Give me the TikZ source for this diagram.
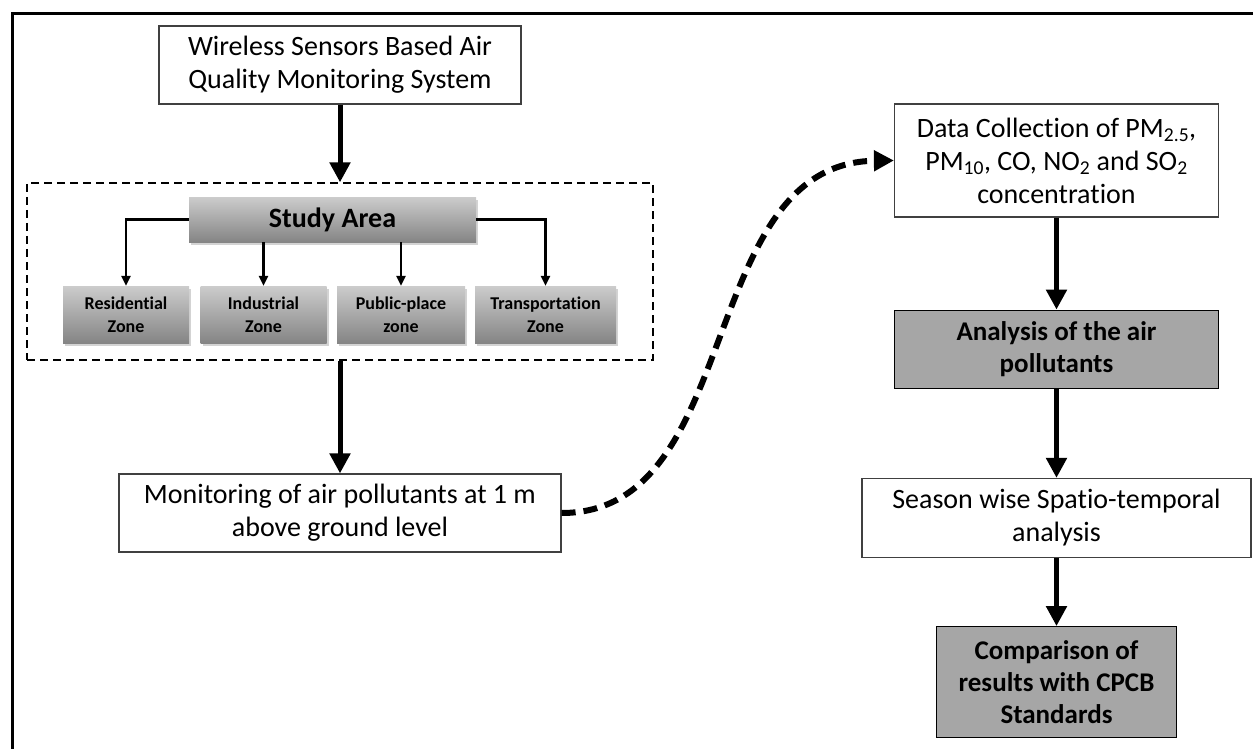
\documentclass[tikz,border=0pt]{standalone}
\usepackage{fontspec}
\setmainfont{Carlito}[Ligatures=NoCommon]
\usetikzlibrary{positioning,arrows.meta,shadows}

\begin{document}
\begin{tikzpicture}[x=1pt, y=-1pt, node distance=90pt,
  every node/.style={inner sep=0pt, align=center},
  wbox/.style={draw=black!75, line width=1.2pt, fill=white, font=\fontsize{28}{33}\selectfont},
  gbox/.style={draw=black, line width=1.3pt, fill=black!35, font=\bfseries\fontsize{27}{32}\selectfont},
  zone/.style={top color=black!20, bottom color=black!48, drop shadow={shadow xshift=2pt, shadow yshift=-2.5pt, opacity=.35}, font=\bfseries\fontsize{18}{23}\selectfont, minimum height=57pt},
  big/.style={line width=5pt, -{Triangle[width=20pt,length=20pt]}},
  small/.style={line width=2.5pt, -{Triangle[width=9pt,length=10pt]}}]
  \useasboundingbox (0,0) rectangle (1253,749);
  \draw[line width=3pt] (12,749) |- (1253,14);

  % left column
  \node[wbox, minimum width=362pt, minimum height=78pt] (wsn) at (340,65) {Wireless Sensors Based Air\\Quality Monitoring System};
  \node[draw, line width=1.3pt, dash pattern=on 8pt off 5pt, minimum width=626pt, minimum height=177pt] (area) at (340,271.5) {};
  \node[zone, minimum width=287pt, minimum height=45pt, font=\bfseries\fontsize{28}{30}\selectfont] (study) at (332.5,219.5) {Study Area};
  \node[zone, minimum width=126pt] (res) at (126,314.5) {Residential\\Zone};
  \node[zone, minimum width=126pt] (ind) at (263.5,314.5) {Industrial\\Zone};
  \node[zone, minimum width=128pt] (pub) at (401,314.5) {Public-place\\zone};
  \node[zone, minimum width=141pt] (tra) at (545.5,314.5) {Transportation\\Zone};
  \node[wbox, minimum width=442pt, minimum height=78pt] (mon) at (340,513) {Monitoring of air pollutants at 1 m\\above ground level};

  % right column
  \node[wbox, minimum width=324pt, minimum height=113pt] (data) at (1056.5,160.5) {Data Collection of PM\textsubscript{2.5},\\PM\textsubscript{10}, CO, NO\textsubscript{2} and SO\textsubscript{2}\\concentration};
  \node[gbox, minimum width=324pt, minimum height=78pt, below=92pt of data] (ana) {Analysis of the air\\pollutants};
  \node[wbox, minimum width=389pt, minimum height=79pt, below=89pt of ana] (sea) {Season wise Spatio-temporal\\analysis};
  \node[gbox, minimum width=240pt, minimum height=111pt, below=68pt of sea] (cmp) {Comparison of\\results with CPCB\\Standards};

  \draw[big] (wsn) -- (area.north);
  \draw[big] (area.south) -- (mon.north);
  \draw[small] (study.west) -| (res.north);
  \draw[small] (study.south -| ind.north) -- (ind.north);
  \draw[small] (study.south -| pub.north) -- (pub.north);
  \draw[small] (study.east) -| (tra.north);
  \draw[line width=6pt, dash pattern=on 14pt off 8pt, -{Triangle[width=20pt,length=20pt]}] (mon.east) .. controls (745,513) and (695,163) .. (data.west);
  \draw[big] (data) -- (ana);
  \draw[big] (ana) -- (sea);
  \draw[big] (sea) -- (cmp);
\end{tikzpicture}
\end{document}
